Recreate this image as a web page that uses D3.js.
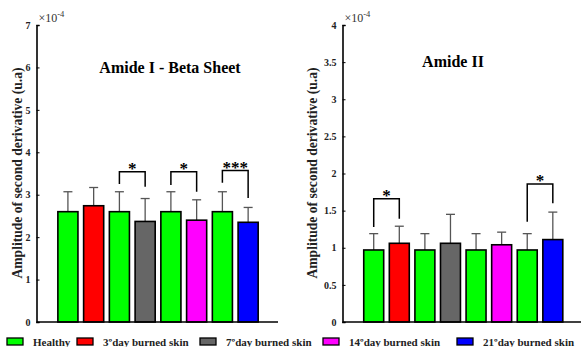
<!DOCTYPE html>
<html>
<head>
<meta charset="utf-8">
<script src="https://cdnjs.cloudflare.com/ajax/libs/d3/7.8.5/d3.min.js"></script>
<style>
  body { margin: 0; background: #fff; }
</style>
</head>
<body>
<svg id="chart" width="581" height="347"></svg>
<script>
var FONT = "'Liberation Serif'";

// legend categories and their colours
var categories = ["Healthy", "3ºday burned skin", "7ºday burned skin", "14ºday burned skin", "21ºday burned skin"];
var catColors = ["#00ff00", "#ff0000", "#666666", "#ff00ff", "#0000ff"];

// which category each of the 8 bars belongs to
var barCategory = [0, 1, 0, 2, 0, 3, 0, 4];

// Amide I - Beta Sheet (x 1e-4)
var amideIMeans = [2.60, 2.74, 2.60, 2.37, 2.60, 2.40, 2.60, 2.35];
var amideIErr   = [0.47, 0.43, 0.47, 0.54, 0.47, 0.48, 0.47, 0.35];
var amideITicks = [0, 1, 2, 3, 4, 5, 6, 7];
// significance brackets: [fromBar, toBar, top, leftFoot, rightFoot, label]
var amideISig = [
  [3, 4, 3.54, 3.25, 3.19, "*"],
  [5, 6, 3.54, 3.23, 3.07, "*"],
  [7, 8, 3.57, 3.28, 2.92, "***"]
];

// Amide II (x 1e-4)
var amideIIMeans = [0.97, 1.06, 0.97, 1.06, 0.97, 1.04, 0.97, 1.11];
var amideIIErr   = [0.22, 0.23, 0.22, 0.39, 0.22, 0.17, 0.22, 0.37];
var amideIITicks = [0, 0.5, 1, 1.5, 2, 2.5, 3, 3.5, 4];
var amideIISig = [
  [1, 2, 1.66, 1.28, 1.39, "*"],
  [7, 8, 1.86, 1.35, 1.60, "*"]
];

var svg = d3.select("#chart");

function drawPanel(opts) {
  var x = d3.scaleLinear().domain([-0.22, 9.16]).range([opts.left, opts.right]);
  var y = d3.scaleLinear().domain([0, opts.yMax]).range([322, 25]);
  var g = svg.append("g");
  var bw = x(0.78) - x(0);

  var bars = opts.means.map(function(m, i) {
    return { pos: i + 1, mean: m, err: opts.err[i], cat: barCategory[i] };
  });

  // error bars (upper only), drawn first so bars cover the lower half
  var eb = g.selectAll(".err").data(bars).enter().append("g").attr("class", "err")
    .attr("stroke", "#555").attr("stroke-width", 1.3);
  eb.append("line")
    .attr("x1", function(d) { return x(d.pos); }).attr("x2", function(d) { return x(d.pos); })
    .attr("y1", function(d) { return y(d.mean); }).attr("y2", function(d) { return y(d.mean + d.err); });
  eb.append("line")
    .attr("x1", function(d) { return x(d.pos) - 4.5; }).attr("x2", function(d) { return x(d.pos) + 4.5; })
    .attr("y1", function(d) { return y(d.mean + d.err); }).attr("y2", function(d) { return y(d.mean + d.err); });

  g.selectAll("rect").data(bars).enter().append("rect")
    .attr("x", function(d) { return x(d.pos) - bw / 2; })
    .attr("y", function(d) { return y(d.mean); })
    .attr("width", bw)
    .attr("height", function(d) { return y(0) - y(d.mean); })
    .attr("fill", function(d) { return catColors[d.cat]; })
    .attr("stroke", "#000").attr("stroke-width", 1.6);

  // axes
  var yAxis = d3.axisLeft(y).tickValues(opts.ticks).tickSize(-3).tickPadding(6)
    .tickFormat(function(d) { return String(d); });
  var ya = g.append("g").attr("transform", "translate(" + opts.left + ",0)").call(yAxis);
  ya.select(".domain").attr("stroke-width", 1.6);
  ya.selectAll("text").attr("fill", "#222")
    .attr("font-family", FONT).attr("font-weight", "bold").attr("font-size", 10);
  g.append("line").attr("x1", opts.left).attr("x2", opts.right)
    .attr("y1", y(0)).attr("y2", y(0)).attr("stroke", "#000").attr("stroke-width", 1.6);

  // exponent
  var ex = g.append("text").attr("x", opts.left + 2).attr("y", 22).attr("font-size", 12)
    .attr("font-family", FONT).attr("fill", "#333");
  ex.append("tspan").text("×10");
  ex.append("tspan").attr("dy", -5).attr("font-size", 8.5).text("-4");

  // title
  g.append("text").attr("x", opts.titleX).attr("y", opts.titleY).attr("text-anchor", "middle")
    .attr("font-family", FONT).attr("font-weight", "bold")
    .attr("font-size", 16).text(opts.title);

  // y label
  g.append("text").attr("transform", "translate(" + opts.labelX + ",173) rotate(-90)")
    .attr("text-anchor", "middle").attr("font-size", 13.6).attr("fill", "#222")
    .attr("font-family", FONT).attr("font-weight", "bold")
    .text("Amplitude of second derivative (u.a)");

  // significance brackets
  var sg = g.selectAll(".sig").data(opts.sig).enter().append("g").attr("class", "sig");
  sg.append("path")
    .attr("d", function(d) {
      return "M" + x(d[0]) + "," + y(d[3]) + "V" + y(d[2]) + "H" + x(d[1]) + "V" + y(d[4]);
    })
    .attr("fill", "none").attr("stroke", "#000").attr("stroke-width", 1.5);
  sg.append("text")
    .attr("x", function(d) { return (x(d[0]) + x(d[1])) / 2; })
    .attr("y", function(d) { return y(d[2]) + 2; })
    .attr("text-anchor", "middle").attr("font-size", 17)
    .attr("font-family", FONT).attr("font-weight", "bold")
    .text(function(d) { return d[5]; });
}

drawPanel({ left: 36.5, right: 278, yMax: 7, means: amideIMeans, err: amideIErr,
  ticks: amideITicks, sig: amideISig, title: "Amide I - Beta Sheet", titleX: 170, titleY: 73, labelX: 22 });
drawPanel({ left: 342.5, right: 582.5, yMax: 4, means: amideIIMeans, err: amideIIErr,
  ticks: amideIITicks, sig: amideIISig, title: "Amide II", titleX: 453, titleY: 67, labelX: 317 });

// legend
var legendX = [7, 77, 200, 323, 457];
var lg = svg.selectAll(".leg").data(categories).enter().append("g").attr("class", "leg")
  .attr("transform", function(d, i) { return "translate(" + legendX[i] + ",338)"; });
lg.append("rect").attr("width", 16).attr("height", 7)
  .attr("fill", function(d, i) { return catColors[i]; })
  .attr("stroke", "#000").attr("stroke-width", 1.3);
lg.append("text").attr("x", 26).attr("y", 7.5).attr("font-size", 11).attr("fill", "#222")
  .attr("font-family", FONT).attr("font-weight", "bold")
  .text(function(d) { return d; });
</script>
</body>
</html>
